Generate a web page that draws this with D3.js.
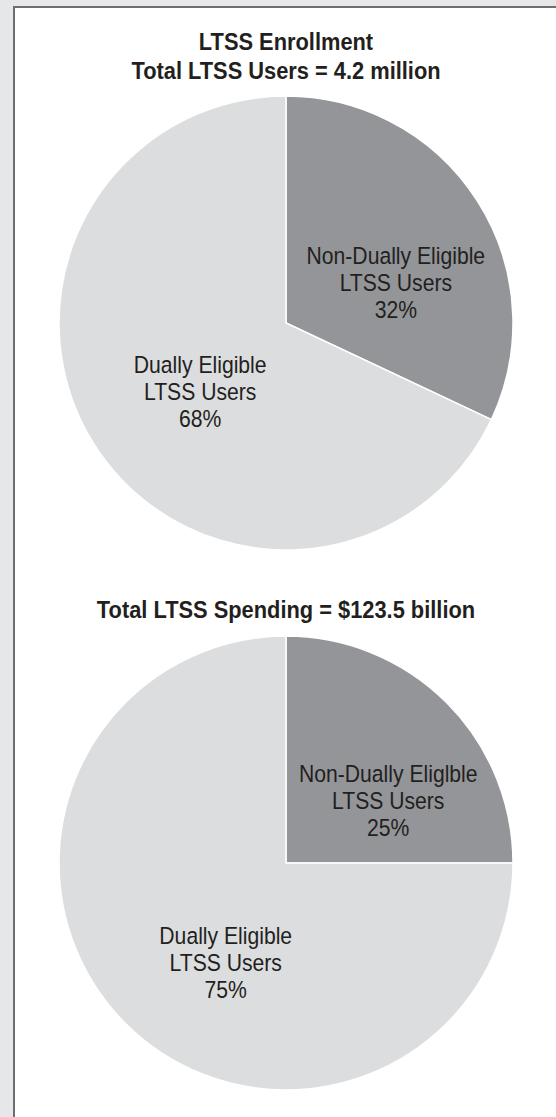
<!DOCTYPE html>
<html>
<head>
<meta charset="utf-8">
<script src="https://cdn.jsdelivr.net/npm/d3@7"></script>
<style>
  html, body { margin: 0; padding: 0; background: #e6e7e8; }
  svg { display: block; }
  .title { font-family: "Liberation Sans", Arial, sans-serif; font-weight: bold; font-size: 24px; fill: #231f20; text-anchor: middle; }
  .label { font-family: "Liberation Sans", Arial, sans-serif; font-size: 23.5px; fill: #231f20; text-anchor: middle; }
</style>
</head>
<body>
<script>
// Enrollment and spending shares for LTSS users
const categories = ["Non-Dually Eligible LTSS Users", "Dually Eligible LTSS Users"];
const enrollmentShare = [32, 68];
const spendingShare = [25, 75];
const enrollmentLabels = [["Non-Dually Eligible", "LTSS Users", "32%"], ["Dually Eligible", "LTSS Users", "68%"]];
const spendingLabels = [["Non-Dually Eliglble", "LTSS Users", "25%"], ["Dually Eligible", "LTSS Users", "75%"]];
const enrollmentTitle = ["LTSS Enrollment", "Total LTSS Users = 4.2 million"];
const spendingTitle = ["Total LTSS Spending = $123.5 billion"];

const W = 556, H = 1117;
const colors = d3.scaleOrdinal().domain(categories).range(["#939598", "#dcdddf"]);

// condensed look: squeeze the sans face horizontally
const TITLE_SQUEEZE = 0.91, LABEL_SQUEEZE = 0.9;

const svg = d3.select("body").append("svg").attr("width", W).attr("height", H);

// white panel with a dark rule on the top and left edges
svg.append("rect").attr("x", 14).attr("y", 7).attr("width", W + 20).attr("height", H + 20)
  .attr("fill", "#ffffff").attr("stroke", "#6d6e71").attr("stroke-width", 2);

const radius = 227;
const pie = d3.pie().sort(null).value(d => d);
const arc = d3.arc().innerRadius(0).outerRadius(radius);

function drawPie(cx, cy, values, labels, titleLines, titleY, nudges) {
  const g = svg.append("g").attr("transform", `translate(${cx},${cy})`);
  const arcs = pie(values);
  g.selectAll("path").data(arcs).join("path")
    .attr("d", arc)
    .attr("fill", (d, i) => colors(categories[i]))
    .attr("stroke", "#ffffff").attr("stroke-width", 1.5);

  // three-line slice labels placed near each slice centroid
  arcs.forEach((a, i) => {
    const [x, y] = arc.centroid(a);
    const t = g.append("text").attr("class", "label")
      .attr("transform", `translate(${x + nudges[i][0]},${y + nudges[i][1]}) scale(${LABEL_SQUEEZE},1)`);
    labels[i].forEach((line, k) => {
      t.append("tspan").attr("x", 0).attr("y", (k - 1) * 27 + 8).text(line);
    });
  });

  const tt = svg.append("text").attr("class", "title")
    .attr("transform", `translate(${cx},${titleY}) scale(${TITLE_SQUEEZE},1)`);
  titleLines.forEach((line, k) => {
    tt.append("tspan").attr("x", 0).attr("y", k * 29).text(line);
  });
}

drawPie(286, 323, enrollmentShare, enrollmentLabels, enrollmentTitle, 50, [[14, 21], [10, 8]]);
drawPie(286, 863, spendingShare, spendingLabels, spendingTitle, 618, [[22, 18], [20, 20]]);
</script>
</body>
</html>
